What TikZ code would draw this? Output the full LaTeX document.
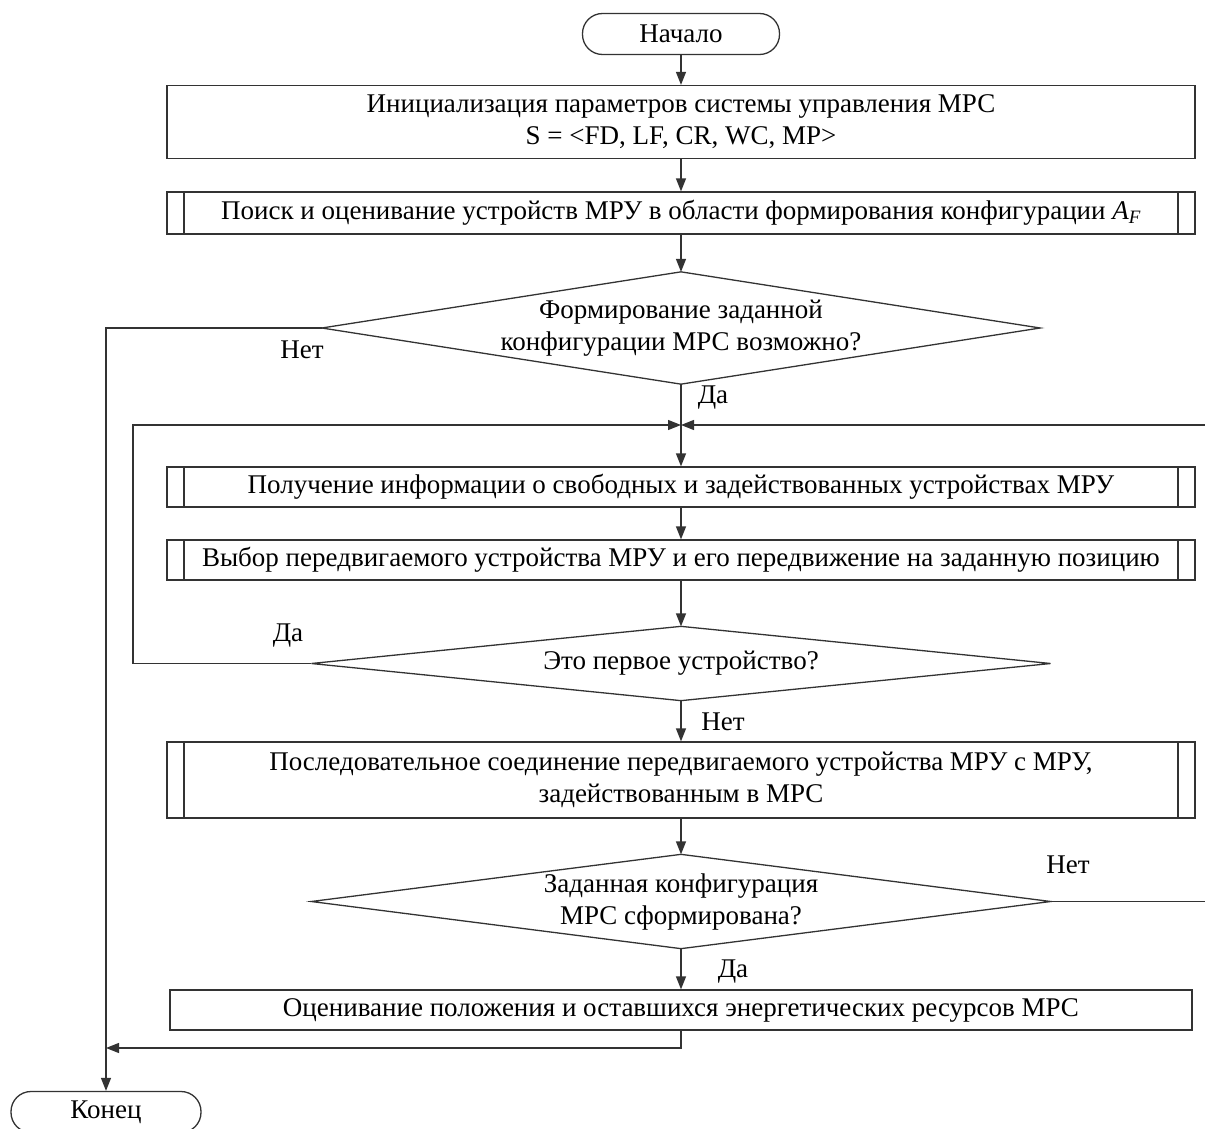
\documentclass[tikz,border=0pt]{standalone}
\usepackage{fontspec}
\setmainfont{Liberation Serif}
\usetikzlibrary{arrows.meta}
\usetikzlibrary{calc}

\begin{document}
\begin{tikzpicture}[x=1pt, y=-1pt,
  line width=1.3pt, draw=black!80,
  >={Triangle[length=13pt,width=10pt]},
  every node/.style={font=\fontsize{27}{32}\selectfont},
  terminal/.style={draw, rounded corners=20pt, minimum width=197pt, minimum height=41pt, inner sep=0pt},
  process/.style={draw, minimum width=1028pt, inner sep=0pt, align=center},
  predef/.style={process, path picture={
    \draw ([xshift=17pt]path picture bounding box.north west) -- ([xshift=17pt]path picture bounding box.south west);
    \draw ([xshift=-17pt]path picture bounding box.north east) -- ([xshift=-17pt]path picture bounding box.south east);}},
  decision/.style={minimum width=#1, inner sep=0pt, align=center},
  lbl/.style={inner sep=1pt}]
\clip (0,0) rectangle (1205,1129);

% blocks
\node[terminal] (start) at (681,34) {Начало};
\node[process, minimum height=73pt] (init) at (681,122)
  {Инициализация параметров системы управления МРС\\ S = <FD, LF, CR, WC, MP>};
\node[predef, minimum height=42pt] (search) at (681,213)
  {Поиск и оценивание устройств МРУ в области формирования конфигурации \textit{A\textsubscript{F}}};
\node[decision=717pt, minimum height=111pt] (d1) at (681,328)
  {Формирование заданной\\ конфигурации МРС возможно?};
\node[predef, minimum height=40pt] (get) at (681,487)
  {Получение информации о свободных и задействованных устройствах МРУ};
\node[predef, minimum height=40pt] (pick) at (681,560)
  {Выбор передвигаемого устройства МРУ и его передвижение на заданную позицию};
\node[decision=738pt, minimum height=73pt] (d2) at (681,663.5)
  {Это первое устройство?};
\node[predef, minimum height=76pt] (join) at (681,780)
  {Последовательное соединение передвигаемого устройства МРУ с МРУ,\\ задействованным в МРС};
\node[decision=738pt, minimum height=93pt] (d3) at (681,901.5)
  {Заданная конфигурация\\ МРС сформирована?};
\node[process, minimum width=1022pt, minimum height=40pt] (eval) at (681,1010)
  {Оценивание положения и оставшихся энергетических ресурсов МРС};
\node[terminal, minimum width=190pt] (end) at (106,1112) {Конец};

% diamonds
\foreach \d in {d1, d2, d3}
  \draw (\d.north) -- (\d.east) -- (\d.south) -- (\d.west) -- cycle;

% labels
\node[lbl] (no1) at (302,350) {Нет};
\node[lbl] (yes1) at (713,398) {Да};
\node[lbl] (yes2) at (288,636) {Да};
\node[lbl] (no2) at (723,722) {Нет};
\node[lbl] (no3) at (1068,865) {Нет};
\node[lbl] (yes3) at (733,972) {Да};

% merge points
\coordinate (m1) at (681,425);
\coordinate (lp) at (133,425);
\coordinate (rp) at (1215,425);
\coordinate (m2) at (106,1048);

% connectors
\draw[->] (start) -- (init);
\draw[->] (init) -- (search);
\draw[->] (search) -- (d1.north);
\draw[->] (d1.south) -- (get);
\draw[->] (get) -- (pick);
\draw[->] (pick) -- (d2.north);
\draw[->] (d2.south) -- (join);
\draw[->] (join) -- (d3.north);
\draw[->] (d3.south) -- (eval);
\draw[->] (d1.west) -| (end.north);
\draw[->] (d2.west) -| (lp) -- (m1);
\draw[->] (d3.east) -| (rp) -- (m1);
\draw[->] (eval.south) |- (m2);
\end{tikzpicture}
\end{document}
